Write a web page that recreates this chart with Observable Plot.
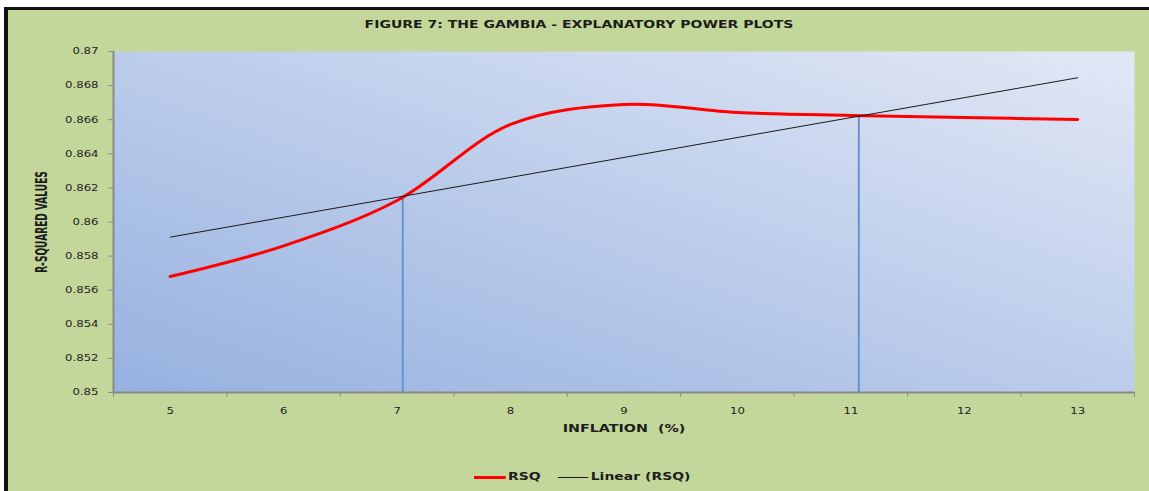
<!DOCTYPE html>
<html>
<head>
<meta charset="utf-8">
<script src="https://cdn.jsdelivr.net/npm/d3@7"></script>
<script src="https://cdn.jsdelivr.net/npm/@observablehq/plot@0.6"></script>
<style>
  html, body { margin: 0; padding: 0; background: #ffffff; }
  body { width: 1149px; height: 491px; overflow: hidden; position: relative; }
  #panel { position: absolute; left: 4px; top: 7px; width: 1141px; height: 481px; background: #c4d79b;
           border-top: 3px solid #111; border-left: 4px solid #111; }
  #chart { position: absolute; left: 0; top: 0; }
  #title { position: absolute; left: 579px; top: 18px; white-space: nowrap; line-height: 12px;
           font: bold 10.3px "DejaVu Sans", sans-serif; color: #1c1c1c;
           transform: translateX(-50%) scaleX(1.36); }
  #legend { position: absolute; left: 474px; top: 470px; display: flex; align-items: center; white-space: nowrap;
            font: bold 11px "DejaVu Sans", sans-serif; color: #1c1c1c; line-height: 14px;
            transform-origin: 0 50%; transform: scaleX(1.27); }
  .sw { display: inline-block; }
</style>
</head>
<body>
<div id="panel"></div>
<div id="chart"></div>
<div id="title">FIGURE 7: THE GAMBIA - EXPLANATORY POWER PLOTS</div>
<div id="legend">
  <span class="sw" style="width:25.2px;height:3px;background:#ff0000;margin-right:1.6px"></span><span>RSQ</span>
  <span class="sw" style="width:23.6px;height:1px;background:#1a1a1a;margin-left:13.4px;margin-right:2.4px"></span><span>Linear (RSQ)</span>
</div>
<script>
// ---- data ----
const inflation = [5, 6, 7, 8, 9, 10, 11, 12, 13];
const rsq = [0.8568, 0.8586, 0.86126, 0.86572, 0.86689, 0.86642, 0.86625, 0.86613, 0.86601];
const crossInflation = [7.05, 11.07];
const crossRsq = [0.86155, 0.86625];
const yTickValues = [0.85, 0.852, 0.854, 0.856, 0.858, 0.86, 0.862, 0.864, 0.866, 0.868, 0.87];
const xTickLabels = [5, 6, 7, 8, 9, 10, 11, 12, 13];
const xTickMarks = [4.5, 5.5, 6.5, 7.5, 8.5, 9.5, 10.5, 11.5, 12.5, 13.5];
const xTitle = "INFLATION  (%)";
const yTitle = "R-SQUARED VALUES";

const data = inflation.map((x, i) => ({inflation: x, rsq: rsq[i]}));
const drops = crossInflation.map((x, i) => ({inflation: x, rsq: crossRsq[i]}));

const gradientDefs = () => {
  const defs = d3.create("svg:defs");
  const g = defs.append("linearGradient").attr("id", "plotBg")
    .attr("x1", 0).attr("y1", 1).attr("x2", 1).attr("y2", 0);
  g.append("stop").attr("offset", "0%").attr("stop-color", "#96b1e0");
  g.append("stop").attr("offset", "100%").attr("stop-color", "#e2e8f5");
  return defs.node();
};

const axisGray = "#8a8a8a";

const chart = Plot.plot({
  width: 1149,
  height: 491,
  marginLeft: 113,
  marginRight: 15,
  marginTop: 51,
  marginBottom: 99,
  style: {background: "transparent", fontFamily: "DejaVu Sans, sans-serif", fontSize: "9px", color: "#222"},
  x: {domain: [4.5, 13.5]},
  y: {domain: [0.85, 0.87]},
  marks: [
    gradientDefs,
    Plot.frame({fill: "url(#plotBg)", stroke: "none"}),
    Plot.axisX({ticks: xTickMarks, tickSize: 5, tickFormat: () => "", stroke: axisGray, label: null}),
    Plot.axisX({ticks: xTickLabels, tickSize: 0, tickPadding: 15, tickFormat: d => String(d), fill: "#222", label: null}),
    Plot.axisY({ticks: yTickValues, tickSize: 5, tickPadding: 10, tickFormat: d => String(d), stroke: axisGray, fill: "#222", label: null}),
    Plot.ruleX([4.5], {stroke: axisGray, strokeWidth: 2}),
    Plot.ruleY([0.85], {stroke: axisGray, strokeWidth: 2}),
    Plot.ruleX(drops, {x: "inflation", y1: 0.85, y2: "rsq", stroke: "#6a92cf", strokeWidth: 2}),
    Plot.line(data, {x: "inflation", y: "rsq", stroke: "#ff0000", strokeWidth: 3, curve: "catmull-rom"}),
    Plot.linearRegressionY(data, {x: "inflation", y: "rsq", stroke: "#1a1a1a", strokeWidth: 1, ci: 0}),
    Plot.text([xTitle], {frameAnchor: "bottom", dy: 39, fontWeight: "bold", fontSize: 11, fill: "#1c1c1c"}),
    Plot.text([yTitle], {frameAnchor: "left", dx: -71, rotate: -90, textAnchor: "middle", fontWeight: "bold", fontSize: 12,
                         fontFamily: "Liberation Sans Narrow, DejaVu Sans Condensed, sans-serif", fill: "#1c1c1c"})
  ]
});

// Horizontal stretch of the reference's lettering
chart.querySelectorAll("text").forEach(t => {
  const tr = t.getAttribute("transform") || "";
  t.setAttribute("transform", tr + (tr.includes("rotate") ? " scale(0.84,1.3)" : " scale(1.3,1)"));
});

document.getElementById("chart").appendChild(chart);
</script>
</body>
</html>
